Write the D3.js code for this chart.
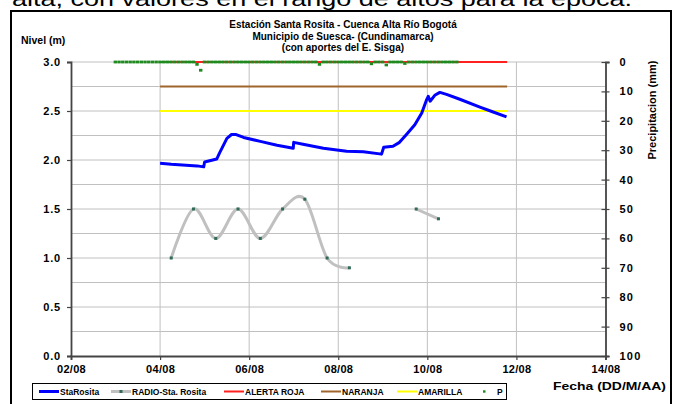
<!DOCTYPE html>
<html><head><meta charset="utf-8">
<script src="https://cdn.jsdelivr.net/npm/d3@7"></script>
<style>
body{margin:0;background:#fff;}
svg{display:block;font-family:"Liberation Sans",Arial,sans-serif;}
</style></head>
<body>
<svg id="c" width="676" height="404"></svg>
<script>
// ---- data ----
const titleLines = ["Estación Santa Rosita - Cuenca Alta Río Bogotá","Municipio de Suesca- (Cundinamarca)","(con aportes del  E. Sisga)"];
const xTickLabels = ["02/08","04/08","06/08","08/08","10/08","12/08","14/08"];
const leftTicks = [0.0,0.5,1.0,1.5,2.0,2.5,3.0];
const rightTicks = [0,10,20,30,40,50,60,70,80,90,100];

// StaRosita level (m)
const staRositaTimes = ["04/08 00:00","04/08 06:00","04/08 20:00","04/08 23:30","05/08 00:00","05/08 06:30","05/08 08:00","05/08 12:00","05/08 14:30","05/08 17:00","05/08 21:00","06/08 06:00","06/08 15:00","06/08 23:45","07/08 00:00","07/08 05:00","07/08 16:00","08/08 04:30","08/08 13:30","08/08 23:20","09/08 00:30","09/08 05:30","09/08 09:00","09/08 12:45","09/08 17:15","09/08 21:00","09/08 23:30","10/08 00:30","10/08 01:30","10/08 04:00","10/08 06:45","10/08 10:20","10/08 17:30","11/08 04:20","11/08 11:30","11/08 18:40"];
const staRositaValues = [1.966,1.956,1.94,1.93,1.98,2.01,2.07,2.22,2.26,2.26,2.23,2.19,2.15,2.12,2.18,2.16,2.12,2.09,2.085,2.06,2.13,2.14,2.18,2.26,2.36,2.48,2.61,2.65,2.60,2.66,2.69,2.67,2.62,2.54,2.49,2.44];

// RADIO-Sta. Rosita (m), null = no report
const radioTimes = ["04/08 06:00","04/08 18:00","05/08 06:00","05/08 18:00","06/08 06:00","06/08 18:00","07/08 06:00","07/08 18:00","08/08 06:00","08/08 18:00","09/08 06:00","09/08 18:00","10/08 06:00"];
const radioValues = [1.0,1.5,1.2,1.5,1.2,1.5,1.6,1.0,0.9,null,null,1.5,1.4];

// alert thresholds (m) and their span
const alertStart = "04/08 00:00";
const alertEnd = "11/08 19:00";
const alertRoja = 3.0, alertNaranja = 2.75, alertAmarilla = 2.5;

// precipitation P (mm), every 2 hours from 03/08 00:00 to 10/08 16:00
const pStart = "03/08 00:00";
const pStepHours = 2;
const pValues = [
0,0,0,0,0,0,0,0,0,0,0,0,
0,0,0,0,0,0,0,0,0,0,0.8,2.8,
0,0,0,0,0,0,0,0,0,0,0,0,
0,0,0,0,0,0,0,0,0,0,0,0,
0,0,0,0,0,0,0,0.8,0,0,0,0,
0,0,0,0,0,0,0,0,0,0.6,0,0,
0,1.0,0,0,0,0,0.5,0,0,0,0,0,
0,0,0,0,0,0,0,0,0];

const parseT = s => { const [d,t] = s.split(" "); const [dd,mm] = d.split("/").map(Number); const [hh,mi] = t.split(":").map(Number); return new Date(2008, mm-1, dd, hh, mi); };

// ---- layout ----
const svg = d3.select("#c");
const L = 71, R = 605.5, T = 62, B = 356;
const x = d3.scaleTime().domain([new Date(2008,7,2), new Date(2008,7,14)]).range([L,R]);
const y = d3.scaleLinear().domain([0,3]).range([B,T]);
const yP = d3.scaleLinear().domain([0,100]).range([T,B]);
const bold = "bold";

svg.append("rect").attr("width",676).attr("height",404).attr("fill","#fff");
// cut-off document text above
svg.append("text").attr("x",12).attr("y",6).attr("font-size",20).attr("font-family","Liberation Sans, Arial")
  .attr("textLength",620).attr("lengthAdjust","spacingAndGlyphs")
  .text("alta, con valores en el rango de altos para la época.");
// frame
svg.append("rect").attr("x",11).attr("y",11).attr("width",660).attr("height",420).attr("fill","none").attr("stroke","#000").attr("stroke-width",2);

// grid
const hg = d3.range(0.25,3.01,0.25);
svg.append("g").selectAll("line").data(hg).join("line")
  .attr("x1",L).attr("x2",R).attr("y1",d=>y(d)).attr("y2",d=>y(d))
  .attr("stroke","#c0c0c0").attr("stroke-width",1);
const xTickDates = xTickLabels.map(s=>parseT(s+" 00:00"));
svg.append("g").selectAll("line").data(xTickDates.slice(1,-1)).join("line")
  .attr("x1",d=>x(d)).attr("x2",d=>x(d)).attr("y1",T).attr("y2",B)
  .attr("stroke","#c0c0c0").attr("stroke-width",1);

// axes
const axisColor = "#444";
const gL = svg.append("g").attr("transform",`translate(${L},0)`)
  .call(d3.axisLeft(y).tickValues(leftTicks).tickFormat(d3.format(".1f")).tickSize(4).tickPadding(6));
const gR = svg.append("g").attr("transform",`translate(${R},0)`)
  .call(d3.axisRight(yP).tickValues(rightTicks).tickSize(4).tickPadding(10));
const gB = svg.append("g").attr("transform",`translate(0,${B})`)
  .call(d3.axisBottom(x).tickValues(xTickDates).tickFormat((d,i)=>xTickLabels[i]).tickSize(4).tickPadding(5));
[gL,gR,gB].forEach(g=>{
  g.select(".domain").attr("stroke",axisColor).attr("stroke-width",1.8);
  g.selectAll(".tick line").attr("stroke",axisColor).attr("stroke-width",1.2);
  g.selectAll("text").attr("font-size",11).attr("font-weight",bold).attr("fill","#000").attr("font-family","Liberation Sans, Arial");
});
gL.selectAll("text").attr("letter-spacing","0.8px").attr("dy","0.36em");
gR.selectAll("text").attr("letter-spacing","1.2px");
gB.selectAll("text").attr("letter-spacing","0.3px");
gR.selectAll(".tick line").attr("x1",-4);
gB.selectAll(".tick line").attr("y1",0);

// alert lines
const aS = parseT(alertStart), aE = parseT(alertEnd);
[[alertAmarilla,"#ffff00"],[alertNaranja,"#a0642d"],[alertRoja,"#ff2020"]].forEach(([v,c])=>{
  svg.append("line").attr("x1",x(aS)).attr("x2",x(aE)).attr("y1",y(v)).attr("y2",y(v))
    .attr("stroke",c).attr("stroke-width",2);
});

// precipitation markers
const p0 = parseT(pStart);
const pData = pValues.map((v,i)=>({t:new Date(p0.getTime()+i*pStepHours*3600e3), v}));
svg.append("g").selectAll("rect").data(pData).join("rect")
  .attr("x",d=>x(d.t)-1.9).attr("y",d=>yP(d.v)-1.4).attr("width",3.4).attr("height",2.8)
  .attr("fill","#1f8a1f");

// StaRosita
const staData = staRositaTimes.map((t,i)=>({t:parseT(t), v:staRositaValues[i]}));
svg.append("path").datum(staData)
  .attr("d",d3.line().x(d=>x(d.t)).y(d=>y(d.v)))
  .attr("fill","none").attr("stroke","#0000ff").attr("stroke-width",3).attr("stroke-linejoin","round");

// Radio
const radioData = radioTimes.map((t,i)=>({t:parseT(t), v:radioValues[i]}));
svg.append("path").datum(radioData)
  .attr("d",d3.line().defined(d=>d.v!==null).curve(d3.curveCardinal.tension(0)).x(d=>x(d.t)).y(d=>y(d.v)))
  .attr("fill","none").attr("stroke","#c0c0c0").attr("stroke-width",3);
svg.append("g").selectAll("rect").data(radioData.filter(d=>d.v!==null)).join("rect")
  .attr("x",d=>x(d.t)-1.5).attr("y",d=>y(d.v)-1.5).attr("width",3).attr("height",3)
  .attr("fill","#2f6b55");

// titles
svg.append("g").selectAll("text").data(titleLines).join("text")
  .attr("x",343).attr("y",(d,i)=>28+i*11.5).attr("text-anchor","middle")
  .attr("font-size",10).attr("font-weight",bold).text(d=>d);
svg.append("text").attr("x",21).attr("y",44).attr("font-size",10.5).attr("font-weight",bold).text("Nivel (m)");
svg.append("text").attr("transform","translate(656,110) rotate(-90)").attr("text-anchor","middle")
  .attr("font-size",11).attr("font-weight",bold).text("Precipitacion (mm)");
svg.append("text").attr("x",553).attr("y",390).attr("font-size",11.5).attr("font-weight",bold)
  .attr("textLength",113).attr("lengthAdjust","spacingAndGlyphs").text("Fecha (DD/M/AA)");

// legend
const legend = svg.append("g");
legend.append("rect").attr("x",32.5).attr("y",383.5).attr("width",474).attr("height",16).attr("fill","#fff").attr("stroke","#000").attr("stroke-width",1);
const legItems = [
  {name:"StaRosita", x:39, color:"#0000ff", type:"line", w:3},
  {name:"RADIO-Sta. Rosita", x:111, color:"#c0c0c0", type:"linemark", w:3},
  {name:"ALERTA ROJA", x:224, color:"#ff2020", type:"line", w:2},
  {name:"NARANJA", x:321, color:"#a0642d", type:"line", w:2},
  {name:"AMARILLA", x:397, color:"#ffff00", type:"line", w:2},
  {name:"P", x:476, color:"#1f8a1f", type:"mark"}
];
const ly = 391.5;
legItems.forEach(it=>{
  if(it.type!=="mark"){
    legend.append("line").attr("x1",it.x).attr("x2",it.x+20).attr("y1",ly).attr("y2",ly).attr("stroke",it.color).attr("stroke-width",it.w);
  }
  if(it.type==="linemark") legend.append("rect").attr("x",it.x+8.5).attr("y",ly-1.5).attr("width",3).attr("height",3).attr("fill","#2f6b55");
  if(it.type==="mark") legend.append("rect").attr("x",it.x+7).attr("y",ly-1.2).attr("width",2.5).attr("height",2.4).attr("fill",it.color);
  legend.append("text").attr("x",it.x+21).attr("y",ly+3.2).attr("font-size",8.5).attr("font-weight",bold).text(it.name);
});
</script>
</body></html>
